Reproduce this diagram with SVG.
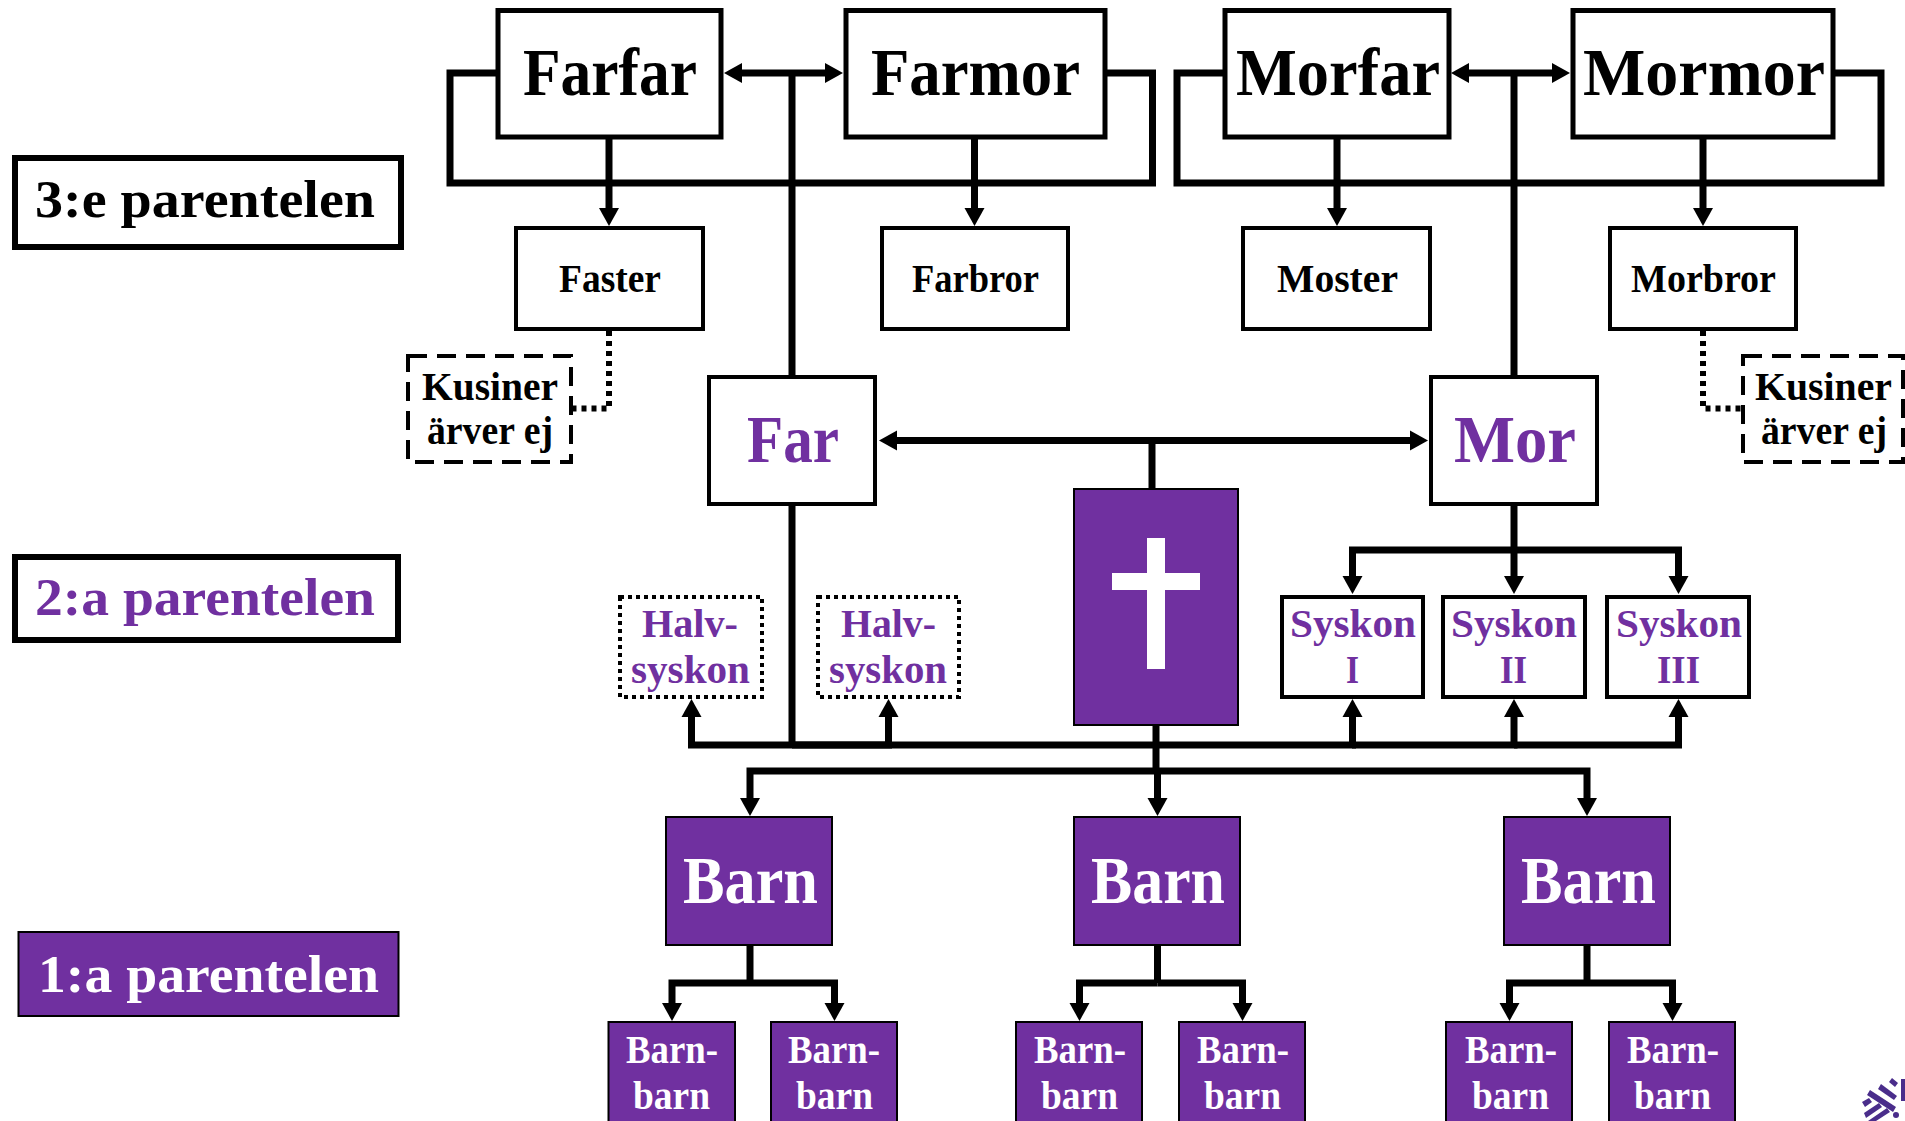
<svg xmlns="http://www.w3.org/2000/svg" width="1905" height="1121" viewBox="0 0 1905 1121">
<style>
text{font-family:"Liberation Serif","Times New Roman",serif;font-weight:700}
.w{fill:#fff;stroke:#000;stroke-width:4}
.b{stroke-width:5}
.p{fill:#7030a0;stroke:#000;stroke-width:2}
.k{fill:#000}.t{fill:#7030a0}.n{fill:#fff}
.xl{font-size:67px}.lg{font-size:52px}.md{font-size:39px}
.c{fill:none;stroke:#000;stroke-width:7;stroke-linejoin:miter}
.a{marker-end:url(#ah)}
.dot{stroke-dasharray:5 5;stroke-width:6}
.dash{fill:#fff;stroke:#000;stroke-width:4;stroke-dasharray:19 10}
.dots{fill:#fff;stroke:#000;stroke-width:4;stroke-dasharray:4 4}
.logo{fill:#4a2d8b}
</style>
<defs>
<marker id="ah" markerUnits="userSpaceOnUse" markerWidth="20" markerHeight="22" refX="0" refY="10" orient="auto" overflow="visible">
<polygon points="0,0 18,10 0,20" fill="#000"/>
</marker>
</defs>
<rect width="1905" height="1121" fill="#fff"/>
<g id="connectors">
<path class="c" d="M499 73H450V183H1152.500V73H1105"/>
<path class="c" d="M1225 73H1177V183H1881V73H1833"/>
<path class="c a" d="M792 73H742"/>
<path class="c a" d="M792 73H825"/>
<path class="c a" d="M1514 73H1469"/>
<path class="c a" d="M1514 73H1552"/>
<path class="c" d="M792 73V377"/>
<path class="c" d="M1514 73V377"/>
<path class="c a" d="M609 137V208"/>
<path class="c a" d="M974.500 137V208"/>
<path class="c a" d="M1337 137V208"/>
<path class="c a" d="M1703 137V208"/>
<path class="c dot" d="M609 331V408.500H573"/>
<path class="c dot" d="M1703 331V408.500H1741"/>
<path class="c a" d="M1152 440.500H897"/>
<path class="c a" d="M1152 440.500H1410"/>
<path class="c" d="M1152 440V489"/>
<path class="c" d="M792 504V745"/>
<path class="c" d="M1514 504V550"/>
<path class="c a" d="M1514 550H1352.500V576"/>
<path class="c a" d="M1514 550V576"/>
<path class="c a" d="M1514 550H1678.500V576"/>
<path class="c a" d="M792 745H691.500V717"/>
<path class="c a" d="M792 745H888.500V717"/>
<path class="c a" d="M792 745H1352.500V717"/>
<path class="c a" d="M1352 745H1514V717"/>
<path class="c a" d="M1514 745H1678.500V717"/>
<path class="c" d="M1156 725V771"/>
<path class="c a" d="M1157.500 771H750V798"/>
<path class="c a" d="M1157.500 771V798"/>
<path class="c a" d="M1157.500 771H1587V798"/>
<path class="c" d="M750 945V983"/>
<path class="c a" d="M750 983H672V1003"/>
<path class="c a" d="M750 983H834.500V1003"/>
<path class="c" d="M1157.500 945V983"/>
<path class="c a" d="M1157.500 983H1079.500V1003"/>
<path class="c a" d="M1157.500 983H1242.500V1003"/>
<path class="c" d="M1587 945V983"/>
<path class="c a" d="M1587 983H1509.500V1003"/>
<path class="c a" d="M1587 983H1672.500V1003"/>
</g>
<g id="parentel3"><rect x="15" y="158" width="386" height="89" fill="#fff" stroke="#000" stroke-width="6"/><text class="k lg" x="35" y="217" textLength="340" lengthAdjust="spacingAndGlyphs">3:e parentelen</text></g>
<g id="parentel2"><rect x="15" y="557" width="383" height="83" fill="#fff" stroke="#000" stroke-width="6"/><text class="t lg" x="35" y="615" textLength="340" lengthAdjust="spacingAndGlyphs">2:a parentelen</text></g>
<g id="parentel1"><rect class="p" x="18.500" y="932" width="380" height="84"/><text class="n lg" x="38" y="992" textLength="341" lengthAdjust="spacingAndGlyphs">1:a parentelen</text></g>
<g id="farfar"><rect class="w b" x="498" y="10.500" width="223" height="126.500"/><text class="k xl" x="523" y="95" textLength="174" lengthAdjust="spacingAndGlyphs">Farfar</text></g>
<g id="farmor"><rect class="w b" x="846" y="10.500" width="259" height="126.500"/><text class="k xl" x="871" y="95" textLength="209" lengthAdjust="spacingAndGlyphs">Farmor</text></g>
<g id="morfar"><rect class="w b" x="1225" y="10.500" width="224" height="126.500"/><text class="k xl" x="1236" y="95" textLength="204" lengthAdjust="spacingAndGlyphs">Morfar</text></g>
<g id="mormor"><rect class="w b" x="1573" y="10.500" width="260" height="126.500"/><text class="k xl" x="1583" y="95" textLength="242" lengthAdjust="spacingAndGlyphs">Mormor</text></g>
<g id="faster"><rect class="w" x="516" y="228" width="187" height="101"/><text class="k md" x="559" y="292" textLength="102" lengthAdjust="spacingAndGlyphs">Faster</text></g>
<g id="farbror"><rect class="w" x="882" y="228" width="186" height="101"/><text class="k md" x="912" y="292" textLength="127" lengthAdjust="spacingAndGlyphs">Farbror</text></g>
<g id="moster"><rect class="w" x="1243" y="228" width="187" height="101"/><text class="k md" x="1277" y="292" textLength="121" lengthAdjust="spacingAndGlyphs">Moster</text></g>
<g id="morbror"><rect class="w" x="1610" y="228" width="186" height="101"/><text class="k md" x="1631" y="292" textLength="145" lengthAdjust="spacingAndGlyphs">Morbror</text></g>
<g id="kusiner1"><rect class="dash" x="408" y="356" width="163" height="106"/><text class="k md" x="422" y="400" textLength="136" lengthAdjust="spacingAndGlyphs">Kusiner</text><text class="k md" x="427" y="444" textLength="126" lengthAdjust="spacingAndGlyphs">ärver ej</text></g>
<g id="kusiner2"><rect class="dash" x="1743" y="356" width="160" height="106"/><text class="k md" x="1755" y="400" textLength="137" lengthAdjust="spacingAndGlyphs">Kusiner</text><text class="k md" x="1761" y="444" textLength="126" lengthAdjust="spacingAndGlyphs">ärver ej</text></g>
<g id="far"><rect class="w" x="709" y="377" width="166" height="127"/><text class="t xl" x="747" y="462" textLength="92" lengthAdjust="spacingAndGlyphs">Far</text></g>
<g id="mor"><rect class="w" x="1431" y="377" width="166" height="127"/><text class="t xl" x="1454" y="462" textLength="122" lengthAdjust="spacingAndGlyphs">Mor</text></g>
<g id="avliden"><rect class="p" x="1074" y="489" width="164" height="236"/><rect x="1147" y="538" width="18" height="131" fill="#fff"/><rect x="1112" y="573" width="88" height="17" fill="#fff"/></g>
<g id="halv1"><rect class="dots" x="620" y="597" width="142" height="100"/><text class="t md" x="642" y="637" textLength="96" lengthAdjust="spacingAndGlyphs">Halv-</text><text class="t md" x="631" y="683" textLength="119" lengthAdjust="spacingAndGlyphs">syskon</text></g>
<g id="halv2"><rect class="dots" x="818" y="597" width="141" height="100"/><text class="t md" x="841" y="637" textLength="95" lengthAdjust="spacingAndGlyphs">Halv-</text><text class="t md" x="829" y="683" textLength="118" lengthAdjust="spacingAndGlyphs">syskon</text></g>
<g id="syskon1"><rect class="w" x="1282" y="597" width="141" height="100"/><text class="t md" x="1290" y="637" textLength="126" lengthAdjust="spacingAndGlyphs">Syskon</text><text class="t md" x="1346" y="683" textLength="13" lengthAdjust="spacingAndGlyphs">I</text></g>
<g id="syskon2"><rect class="w" x="1443" y="597" width="142" height="100"/><text class="t md" x="1451" y="637" textLength="126" lengthAdjust="spacingAndGlyphs">Syskon</text><text class="t md" x="1500" y="683" textLength="27" lengthAdjust="spacingAndGlyphs">II</text></g>
<g id="syskon3"><rect class="w" x="1607" y="597" width="142" height="100"/><text class="t md" x="1616" y="637" textLength="126" lengthAdjust="spacingAndGlyphs">Syskon</text><text class="t md" x="1657" y="683" textLength="43" lengthAdjust="spacingAndGlyphs">III</text></g>
<g id="barn1"><rect class="p" x="666" y="817" width="166" height="128"/><text class="n xl" x="683" y="903" textLength="135" lengthAdjust="spacingAndGlyphs">Barn</text></g>
<g id="barn2"><rect class="p" x="1074" y="817" width="166" height="128"/><text class="n xl" x="1091" y="903" textLength="134" lengthAdjust="spacingAndGlyphs">Barn</text></g>
<g id="barn3"><rect class="p" x="1504" y="817" width="166" height="128"/><text class="n xl" x="1521" y="903" textLength="135" lengthAdjust="spacingAndGlyphs">Barn</text></g>
<g id="barnbarn1"><rect class="p" x="608.500" y="1022" width="126.500" height="110"/><text class="n md" x="626" y="1063" textLength="92" lengthAdjust="spacingAndGlyphs">Barn-</text><text class="n md" x="633" y="1109" textLength="77" lengthAdjust="spacingAndGlyphs">barn</text></g>
<g id="barnbarn2"><rect class="p" x="771" y="1022" width="126" height="110"/><text class="n md" x="788" y="1063" textLength="92" lengthAdjust="spacingAndGlyphs">Barn-</text><text class="n md" x="796" y="1109" textLength="77" lengthAdjust="spacingAndGlyphs">barn</text></g>
<g id="barnbarn3"><rect class="p" x="1016" y="1022" width="126" height="110"/><text class="n md" x="1034" y="1063" textLength="92" lengthAdjust="spacingAndGlyphs">Barn-</text><text class="n md" x="1041" y="1109" textLength="77" lengthAdjust="spacingAndGlyphs">barn</text></g>
<g id="barnbarn4"><rect class="p" x="1179" y="1022" width="126" height="110"/><text class="n md" x="1197" y="1063" textLength="92" lengthAdjust="spacingAndGlyphs">Barn-</text><text class="n md" x="1204" y="1109" textLength="77" lengthAdjust="spacingAndGlyphs">barn</text></g>
<g id="barnbarn5"><rect class="p" x="1446" y="1022" width="126" height="110"/><text class="n md" x="1465" y="1063" textLength="92" lengthAdjust="spacingAndGlyphs">Barn-</text><text class="n md" x="1472" y="1109" textLength="77" lengthAdjust="spacingAndGlyphs">barn</text></g>
<g id="barnbarn6"><rect class="p" x="1609" y="1022" width="126" height="110"/><text class="n md" x="1627" y="1063" textLength="92" lengthAdjust="spacingAndGlyphs">Barn-</text><text class="n md" x="1634" y="1109" textLength="77" lengthAdjust="spacingAndGlyphs">barn</text></g>
<g id="logo" class="logo">
<polygon points="1889,1082 1892,1078 1898,1083 1895,1087"/>
<polygon points="1878,1089 1881,1084 1897,1096 1894,1100"/>
<polygon points="1867,1095 1870,1090 1896,1107 1893,1112"/>
<polygon points="1862,1102 1869,1098 1872,1102 1865,1107"/>
<polygon points="1864,1113 1879,1103 1882,1107 1866,1118"/>
<polygon points="1868,1121 1887,1108 1890,1112 1876,1121"/>
<circle cx="1896" cy="1115" r="3"/>
<rect x="1901" y="1079" width="4" height="22"/>
</g>
</svg>
